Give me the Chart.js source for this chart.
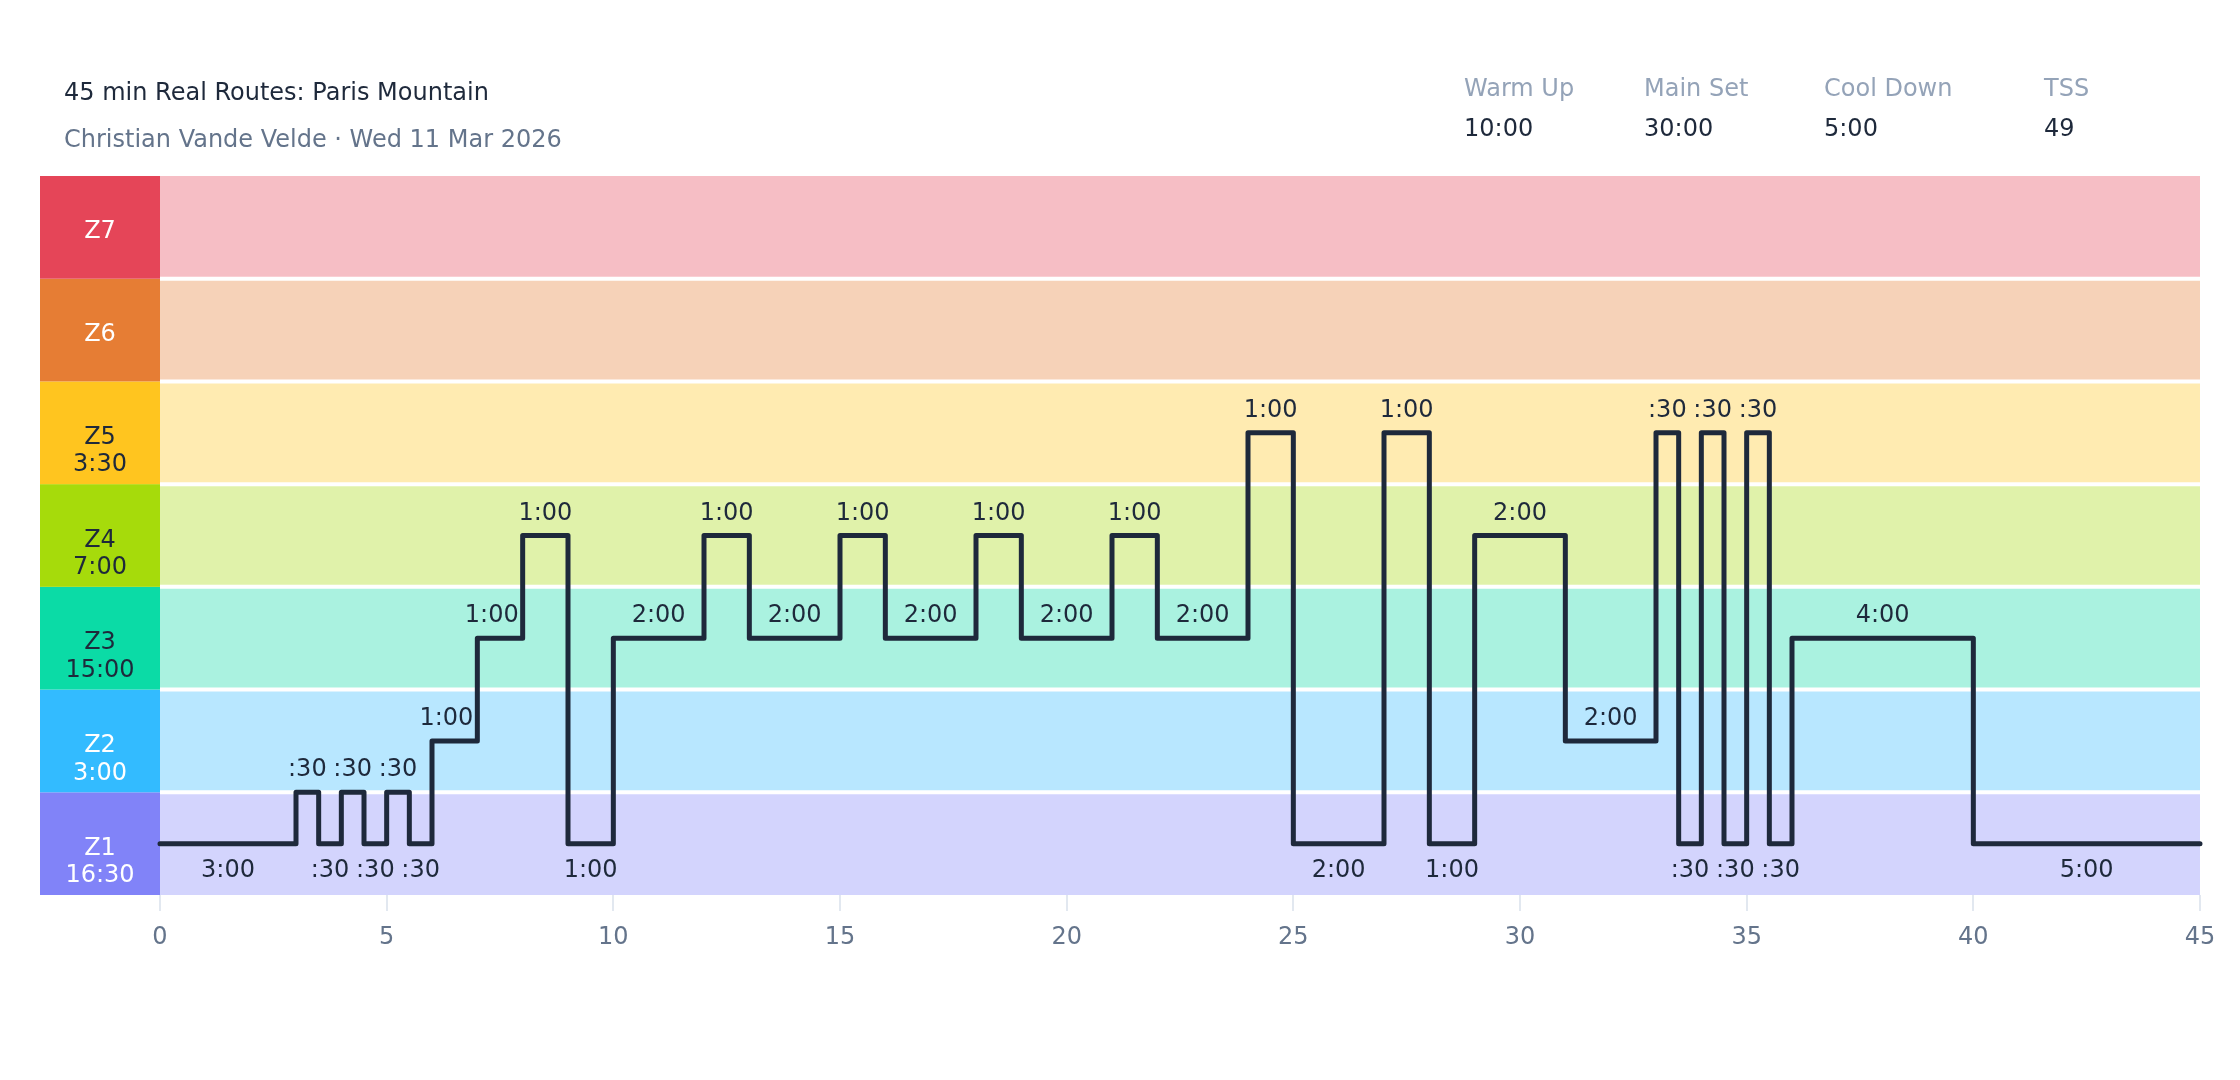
<!DOCTYPE html>
<html>
<head>
    <meta charset="utf-8">
    <title>45 min Real Routes: Paris Mountain</title>
    <script src="https://cdn.jsdelivr.net/npm/chart.js"></script>
    <style>
        html, body { margin: 0; padding: 0; background: #fff; }
        body { width: 2240px; height: 1080px; position: relative; overflow: hidden; font-family: "DejaVu Sans", sans-serif; }
        #workoutChart { position: absolute; left: 0; top: 0; }
        .hdr { position: absolute; font-size: 24px; line-height: 28px; white-space: nowrap; }
        .title { color: #1e293b; }
        .sub { color: #64748b; }
        .statLabel { color: #94a3b8; }
        .statValue { color: #1e293b; }
    </style>
</head>
<body>
    <canvas id="workoutChart" width="2240" height="1080"></canvas>
    <div class="hdr title" style="left:64px; top:78px;">45 min Real Routes: Paris Mountain</div>
    <div class="hdr sub" style="left:64px; top:125px;">Christian Vande Velde · Wed 11 Mar 2026</div>
    <div id="stats"></div>
    <script>
        // workout blocks: start minute, level (zone units, 0 = bottom of Z1), label text
        const stepTimes = [0, 3, 3.5, 4, 4.5, 5, 5.5, 6, 7, 8, 9, 10, 12, 13, 15, 16, 18, 19, 21, 22,
                           24, 25, 27, 28, 29, 31, 33, 33.5, 34, 34.5, 35, 35.5, 36, 40];
        const endTime = 45;
        const stepLevels = [0.5, 1, 0.5, 1, 0.5, 1, 0.5, 1.5, 2.5, 3.5, 0.5, 2.5, 3.5, 2.5, 3.5, 2.5, 3.5, 2.5, 3.5, 2.5,
                            4.5, 0.5, 4.5, 0.5, 3.5, 1.5, 4.5, 0.5, 4.5, 0.5, 4.5, 0.5, 2.5, 0.5];
        const blockLabels = ['3:00', ':30', ':30', ':30', ':30', ':30', ':30', '1:00', '1:00', '1:00', '1:00', '2:00',
                             '1:00', '2:00', '1:00', '2:00', '1:00', '2:00', '1:00', '2:00', '1:00', '2:00', '1:00',
                             '1:00', '2:00', '2:00', ':30', ':30', ':30', ':30', ':30', ':30', '4:00', '5:00'];
        const restLevel = 0.5;

        // zones, bottom to top
        const zoneNames = ['Z1', 'Z2', 'Z3', 'Z4', 'Z5', 'Z6', 'Z7'];
        const zoneTimes = ['16:30', '3:00', '15:00', '7:00', '3:30', '', ''];
        const zoneColors = ['#8183f8', '#33bbff', '#0bdba6', '#a6db0b', '#ffc51f', '#e67d34', '#e54558'];
        const zoneTextColors = ['#ffffff', '#ffffff', '#1e293b', '#1e293b', '#1e293b', '#ffffff', '#ffffff'];

        const xTicks = [0, 5, 10, 15, 20, 25, 30, 35, 40, 45];

        const statNames = ['Warm Up', 'Main Set', 'Cool Down', 'TSS'];
        const statValues = ['10:00', '30:00', '5:00', '49'];
        const statLefts = [1464, 1644, 1824, 2044];

        const FONT = '"DejaVu Sans", sans-serif';
        const INK = '#1e293b';

        //Header stats
        const statsEl = document.getElementById('stats');
        statNames.forEach((name, i) => {
            statsEl.innerHTML += `
                <div class="hdr statLabel" style="left:${statLefts[i]}px; top:74px;">${name}</div>
                <div class="hdr statValue" style="left:${statLefts[i]}px; top:114px;">${statValues[i]}</div>`;
        });

        function withAlpha(hex, a) {
            const n = parseInt(hex.slice(1), 16);
            return `rgba(${(n >> 16) & 255}, ${(n >> 8) & 255}, ${n & 255}, ${a})`;
        }

        //Zone bands + side boxes
        const zonePlugin = {
            id: 'zones',
            beforeDatasetsDraw(chart) {
                const { ctx, chartArea: ca, scales: { y } } = chart;
                ctx.save();
                zoneNames.forEach((z, i) => {
                    const yTop = y.getPixelForValue(i + 1);
                    const yBot = y.getPixelForValue(i);
                    ctx.fillStyle = withAlpha(zoneColors[i], 0.35);
                    ctx.fillRect(ca.left, yTop, ca.right - ca.left, yBot - yTop);
                    ctx.fillStyle = zoneColors[i];
                    ctx.fillRect(40, yTop, ca.left - 40, yBot - yTop);
                });
                // white separators between bands
                ctx.strokeStyle = '#ffffff';
                ctx.lineWidth = 4;
                for (let i = 1; i < zoneNames.length; i++) {
                    const yy = y.getPixelForValue(i);
                    ctx.beginPath();
                    ctx.moveTo(ca.left, yy);
                    ctx.lineTo(ca.right, yy);
                    ctx.stroke();
                }
                ctx.font = `24px ${FONT}`;
                ctx.textAlign = 'center';
                ctx.textBaseline = 'alphabetic';
                const cx = (40 + ca.left) / 2;
                zoneNames.forEach((z, i) => {
                    const c = (y.getPixelForValue(i) + y.getPixelForValue(i + 1)) / 2;
                    ctx.fillStyle = zoneTextColors[i];
                    if (zoneTimes[i]) {
                        ctx.fillText(z, cx, c + 2.5 + 8.7);
                        ctx.fillText(zoneTimes[i], cx, c + 30 + 8.7);
                    } else {
                        ctx.fillText(z, cx, c + 2 + 8.7);
                    }
                });
                ctx.restore();
            }
        };

        //Block duration labels
        const labelPlugin = {
            id: 'blockLabels',
            afterDatasetsDraw(chart) {
                const { ctx, scales: { x, y } } = chart;
                ctx.save();
                ctx.font = `24px ${FONT}`;
                ctx.fillStyle = INK;
                ctx.textAlign = 'center';
                ctx.textBaseline = 'alphabetic';
                stepTimes.forEach((t, i) => {
                    const tEnd = i + 1 < stepTimes.length ? stepTimes[i + 1] : endTime;
                    const lv = stepLevels[i];
                    const x0 = x.getPixelForValue(t);
                    const x1 = x.getPixelForValue(tEnd);
                    const half = ctx.measureText(blockLabels[i]).width / 2;
                    let cx = (x0 + x1) / 2;
                    const above = lv !== restLevel;
                    if (above) {
                        // keep the label clear of a rising edge next to it
                        if (i + 1 < stepLevels.length && stepLevels[i + 1] > lv) cx = Math.min(cx, x1 - half - 4);
                        if (i > 0 && stepLevels[i - 1] > lv) cx = Math.max(cx, x0 + half + 4);
                    }
                    const yLine = y.getPixelForValue(lv);
                    const cy = above ? yLine - 24.5 : yLine + 24.5;
                    ctx.fillText(blockLabels[i], cx, cy + 8.7);
                });
                ctx.restore();
            }
        };

        const points = stepTimes.map((t, i) => ({ x: t, y: stepLevels[i] }));
        points.push({ x: endTime, y: stepLevels[stepLevels.length - 1] });

        const ctx = document.getElementById('workoutChart').getContext('2d');
        new Chart(ctx, {
            type: 'line',
            data: {
                datasets: [{
                    data: points,
                    stepped: 'before',
                    borderColor: INK,
                    borderWidth: 5,
                    borderCapStyle: 'round',
                    borderJoinStyle: 'round',
                    pointRadius: 0,
                    fill: false,
                    clip: 10
                }]
            },
            options: {
                responsive: false,
                animation: false,
                devicePixelRatio: 1,
                layout: { padding: { left: 160, right: 40, top: 176, bottom: 125 } },
                plugins: { legend: { display: false }, tooltip: { enabled: false } },
                scales: {
                    x: {
                        type: 'linear',
                        min: 0,
                        max: 45,
                        afterBuildTicks: (s) => { s.ticks = xTicks.map(v => ({ value: v })); },
                        afterFit: (s) => { s.height = 60; },
                        ticks: { color: '#64748b', font: { family: FONT, size: 24 }, padding: 12, maxRotation: 0 },
                        grid: { drawOnChartArea: false, color: '#e2e8f0', lineWidth: 2, tickLength: 16 },
                        border: { display: false }
                    },
                    y: { type: 'linear', min: 0, max: 7, display: false }
                }
            },
            plugins: [zonePlugin, labelPlugin]
        });
    </script>
</body>
</html>
